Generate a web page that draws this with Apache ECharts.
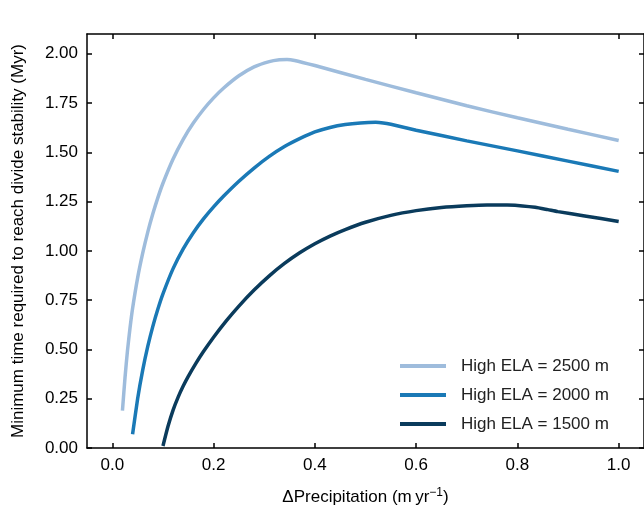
<!DOCTYPE html>
<html>
<head>
<meta charset="utf-8">
<script src="https://cdn.jsdelivr.net/npm/echarts@6/dist/echarts.min.js"></script>
<style>html,body{margin:0;padding:0;background:#fff}#c{width:644px;height:511px}</style>
</head>
<body>
<div id="c"></div>
<script>
const seriesNames = ['High ELA = 2500 m', 'High ELA = 2000 m', 'High ELA = 1500 m'];
const ela2500X = [0.02, 0.025, 0.03, 0.035, 0.04, 0.05, 0.06, 0.07, 0.08, 0.09, 0.1, 0.12, 0.14, 0.16, 0.18, 0.2, 0.22, 0.25, 0.28, 0.31, 0.33, 0.345, 0.36, 0.4, 0.5, 0.6, 0.7, 0.8, 0.9, 1.0];
const ela2500Y = [0.19, 0.355, 0.495, 0.61, 0.708, 0.863, 0.988, 1.095, 1.188, 1.27, 1.343, 1.466, 1.566, 1.648, 1.717, 1.776, 1.826, 1.888, 1.933, 1.96, 1.969, 1.971, 1.966, 1.94, 1.87, 1.802, 1.736, 1.675, 1.617, 1.56];
const ela2000X = [0.04, 0.05, 0.06, 0.07, 0.08, 0.09, 0.1, 0.12, 0.14, 0.16, 0.18, 0.2, 0.22, 0.25, 0.28, 0.31, 0.34, 0.37, 0.4, 0.43, 0.46, 0.49, 0.52, 0.535, 0.55, 0.6, 0.7, 0.8, 0.9, 1.0];
const ela2000Y = [0.07, 0.25, 0.395, 0.515, 0.617, 0.705, 0.782, 0.91, 1.01, 1.092, 1.162, 1.223, 1.278, 1.353, 1.42, 1.479, 1.529, 1.569, 1.603, 1.626, 1.641, 1.649, 1.652, 1.649, 1.642, 1.612, 1.558, 1.507, 1.455, 1.403];
const ela1500X = [0.1, 0.11, 0.12, 0.13, 0.14, 0.15, 0.165, 0.18, 0.2, 0.225, 0.25, 0.28, 0.31, 0.34, 0.37, 0.4, 0.43, 0.46, 0.5, 0.55, 0.6, 0.65, 0.7, 0.74, 0.78, 0.81, 0.835, 0.86, 0.88, 0.933, 1.0];
const ela1500Y = [0.01, 0.11, 0.192, 0.258, 0.314, 0.363, 0.429, 0.489, 0.562, 0.645, 0.72, 0.801, 0.873, 0.936, 0.99, 1.036, 1.075, 1.108, 1.145, 1.18, 1.204, 1.22, 1.229, 1.233, 1.232, 1.228, 1.221, 1.209, 1.199, 1.177, 1.149];
const xTicks = [0.0, 0.2, 0.4, 0.6, 0.8, 1.0];
const yTicks = [0.0, 0.25, 0.5, 0.75, 1.0, 1.25, 1.5, 1.75, 2.0];
const colors = ['#9ebcdc', '#1a79b6', '#0a3b5c'];

const zip = (xs, ys) => xs.map((x, i) => [x, ys[i]]);
const FONT = '"Liberation Sans", Arial, sans-serif';
const axisLine = { show: true, onZero: false, lineStyle: { color: '#000', width: 1.5 } };
const tickIn = (vals) => ({ show: true, inside: true, length: 5, lineStyle: { color: '#000', width: 1.5 }, customValues: vals });
const mkSeries = (i, xs, ys) => ({
  name: seriesNames[i], type: 'line', data: zip(xs, ys), smooth: 0.2,
  showSymbol: false, lineStyle: { width: 3.5, color: colors[i] }, itemStyle: { color: colors[i] }
});

const chart = echarts.init(document.getElementById('c'), null, { renderer: 'canvas' });
chart.setOption({
  animation: false,
  backgroundColor: '#fff',
  grid: { left: 87, top: 34, width: 559, height: 415, containLabel: false },
  legend: {
    orient: 'vertical', left: 395, top: 351,
    itemWidth: 46, itemHeight: 4, itemGap: 9, icon: 'rect',
    textStyle: { fontFamily: FONT, fontSize: 17, color: '#222', lineHeight: 20, padding: [0, 0, 0, 10] },
    data: seriesNames
  },
  xAxis: [{
    type: 'value', min: -0.05, max: 1.05, position: 'bottom',
    axisLine: axisLine, axisTick: tickIn(xTicks), splitLine: { show: false },
    axisLabel: { customValues: xTicks, formatter: v => v.toFixed(1), fontFamily: FONT, fontSize: 17, color: '#000', margin: 9 },
    name: 'ΔPrecipitation (m\u2009yr{sup|\u22121})', nameLocation: 'middle', nameGap: 39,
    nameTextStyle: { fontFamily: FONT, fontSize: 17, color: '#000', rich: { sup: { fontFamily: FONT, fontSize: 12, verticalAlign: 'top', padding: [0, 0, 9, 0] } } }
  }, {
    type: 'value', min: -0.05, max: 1.05, position: 'top',
    axisLine: axisLine, axisTick: tickIn(xTicks), splitLine: { show: false }, axisLabel: { show: false }
  }],
  yAxis: [{
    type: 'value', min: 0, max: 2.1, position: 'left',
    axisLine: axisLine, axisTick: tickIn(yTicks), splitLine: { show: false },
    axisLabel: { customValues: yTicks, formatter: v => v.toFixed(2), fontFamily: FONT, fontSize: 17, color: '#000', margin: 9 },
    name: 'Minimum time required to reach divide stability (Myr)', nameLocation: 'middle', nameGap: 60,
    nameTextStyle: { fontFamily: FONT, fontSize: 17, color: '#000' }
  }, {
    type: 'value', min: 0, max: 2.1, position: 'right',
    axisLine: axisLine, axisTick: tickIn(yTicks), splitLine: { show: false }, axisLabel: { show: false }
  }],
  series: [
    mkSeries(0, ela2500X, ela2500Y),
    mkSeries(1, ela2000X, ela2000Y),
    mkSeries(2, ela1500X, ela1500Y)
  ]
});
</script>
</body>
</html>
